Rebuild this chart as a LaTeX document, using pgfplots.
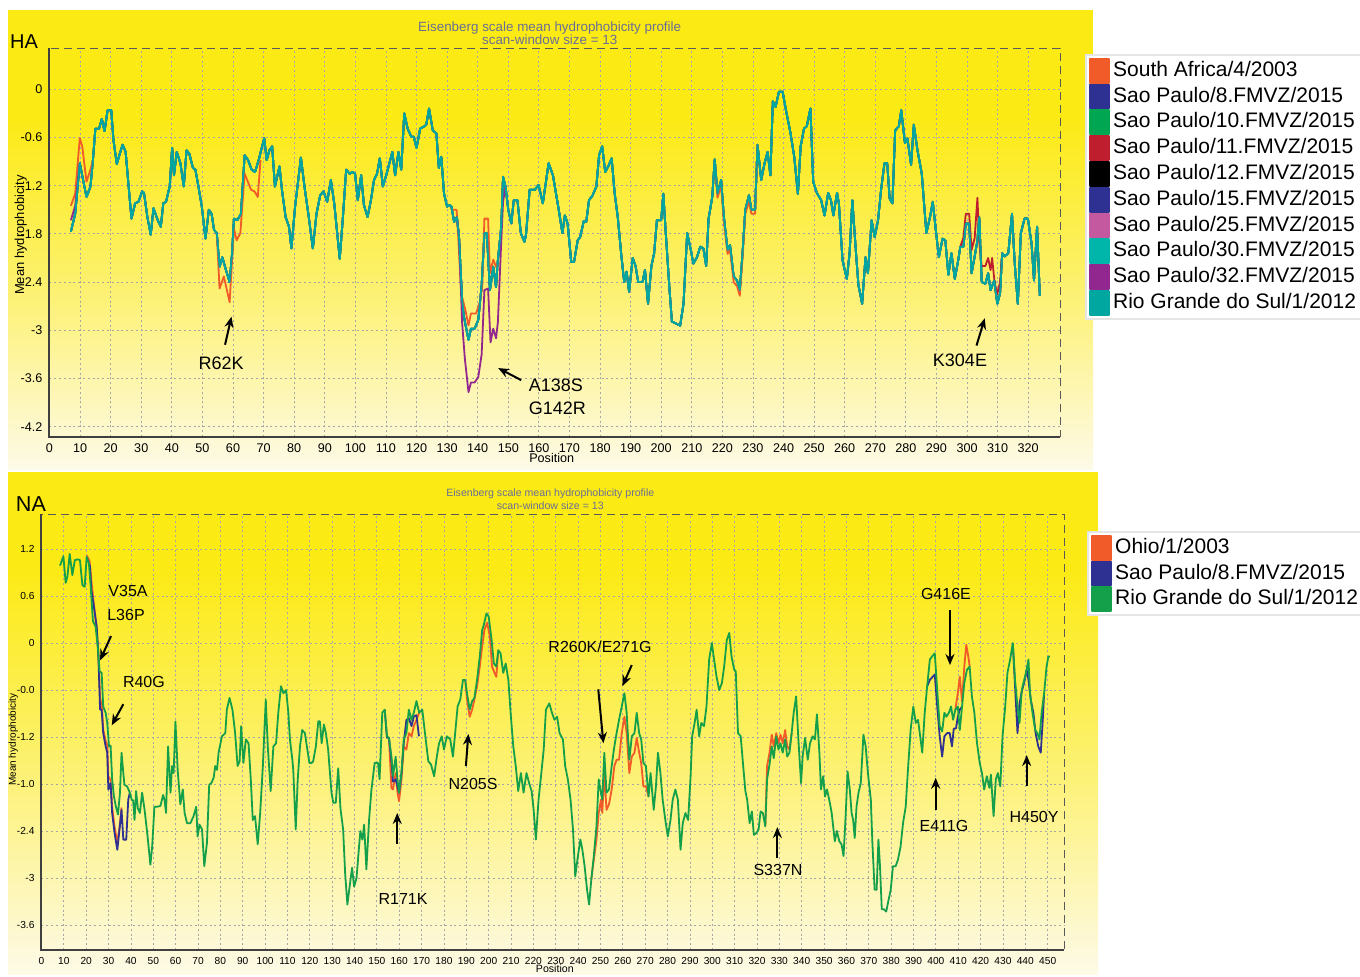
\documentclass[border=0pt]{standalone}
\usepackage{fontspec}
\setmainfont{Liberation Sans}
\usepackage{pgfplots}
\usepackage{pgfplotstable}
\pgfplotsset{compat=1.18}
\usetikzlibrary{arrows.meta}

\definecolor{cSA}{RGB}{241,90,41}
\definecolor{cBlue}{RGB}{46,49,146}
\definecolor{cGreen}{RGB}{0,166,81}
\definecolor{cRed}{RGB}{190,30,45}
\definecolor{cPink}{RGB}{197,89,160}
\definecolor{cTealL}{RGB}{0,181,170}
\definecolor{cPurple}{RGB}{146,39,143}
\definecolor{cTeal}{RGB}{0,166,160}
\definecolor{cNAgreen}{RGB}{20,160,75}
\definecolor{pYellow}{RGB}{252,234,20}
\definecolor{pCream}{RGB}{253,250,232}
\definecolor{titleC}{RGB}{105,110,150}

% ---------------- HA data ----------------
\pgfplotstableread{
x y
7 -1.77
8.4 -1.55
9.9 -0.92
12.1 -1.34
13.4 -1.21
14.2 -0.88
15 -0.49
16.2 -0.49
17.1 -0.37
18 -0.52
19 -0.26
20.2 -0.26
20.9 -0.63
22 -0.93
23 -0.80
23.9 -0.69
24.9 -0.78
25.6 -1.09
26.8 -1.61
28 -1.42
29.1 -1.40
30.3 -1.27
30.9 -1.29
32 -1.59
33.1 -1.81
34 -1.48
35.4 -1.63
36.4 -1.71
37.2 -1.42
38.1 -1.40
39.3 -1.21
40.1 -0.73
40.7 -1.07
41.6 -0.78
42.8 -0.92
43.9 -1.21
44.8 -0.76
45.7 -0.80
46.9 -0.98
47.7 -1.00
48.6 -1.19
49.8 -1.46
51 -1.86
52.1 -1.50
53 -1.55
53.8 -1.75
54.7 -1.79
55.6 -2.21
56.5 -2.09
57.7 -2.25
58.9 -2.40
59.7 -2.04
60.3 -1.61
61.4 -1.63
62.6 -1.55
63.8 -0.82
64.9 -0.88
66.1 -1.00
67.2 -1.03
68.4 -0.88
70.2 -0.61
71 -0.88
71.9 -0.76
72.8 -0.71
73.7 -1.21
75.2 -0.96
76 -1.25
77.2 -1.59
78.3 -1.71
79.1 -1.98
80.3 -1.46
82.2 -0.85
83.5 -1.25
84.7 -1.57
86.1 -1.98
87.3 -1.55
88.5 -1.32
89.6 -1.27
90.8 -1.40
92 -1.13
93.1 -1.42
94.9 -2.11
95.9 -1.61
97 -1.00
98.1 -1.05
99.1 -1.03
99.9 -1.05
100.8 -1.38
101.9 -1.07
102.8 -1.44
104 -1.59
105.1 -1.38
106.1 -1.13
107.1 -1.05
108 -0.86
109 -1.21
110.1 -1.07
112.1 -0.78
113 -1.07
114.1 -0.78
115 -1.00
116 -0.30
117.1 -0.49
118.3 -0.59
119.1 -0.59
120 -0.73
121.2 -0.49
122.6 -0.46
123.2 -0.44
124.1 -0.24
125.3 -0.51
126.5 -0.55
127.3 -0.98
128.1 -0.84
129 -1.30
130 -1.46
130.8 -1.44
131.4 -1.46
132.3 -1.65
133.2 -1.59
133.9 -1.84
134.9 -2.62
135.5 -2.83
137 -3.12
137.8 -2.98
139 -2.98
140.2 -2.87
141.3 -2.44
142.2 -1.79
143 -1.79
144 -2.50
145.1 -2.21
146 -2.46
146.5 -2.17
147.7 -1.71
148.3 -1.09
149.1 -1.21
150 -1.50
151 -1.67
151.8 -1.38
153 -1.38
154.1 -1.79
155.3 -1.90
155.8 -1.81
157 -1.25
158.7 -1.25
159.9 -1.19
161.3 -1.42
163.2 -0.92
164.6 -1.07
166.5 -1.50
167.7 -1.79
168.5 -1.57
169.4 -1.67
170.6 -2.15
171.5 -2.15
172.7 -1.88
173.5 -1.84
174.7 -1.64
175.5 -1.65
176.4 -1.38
177.6 -1.32
178.8 -1.21
179.7 -0.82
180.7 -0.71
181.7 -1.03
182.8 -0.95
183.8 -0.86
184.8 -1.30
185.8 -1.59
186.9 -2.04
187.9 -2.40
188.7 -2.27
189.5 -2.52
190.7 -2.10
191.6 -2.20
192.5 -2.40
193.9 -2.40
194.7 -2.25
195.7 -2.67
196.8 -2.20
197.7 -2.04
198.6 -1.63
200 -1.63
200.7 -1.30
201.5 -1.79
202.7 -2.48
203.5 -2.89
205 -2.92
206.2 -2.94
207.3 -2.67
208.5 -1.79
209.7 -2.00
210.5 -2.17
211.7 -2.09
212.8 -1.96
213.8 -1.98
214.7 -2.20
215.5 -1.61
216.7 -1.34
217.5 -0.87
218.4 -1.30
219.6 -1.13
220.5 -1.59
221.7 -2.00
222.5 -1.94
223.7 -2.33
224.8 -2.38
225.7 -2.50
226.6 -2.04
227.5 -1.50
228.7 -1.32
229.5 -1.50
230.7 -1.50
231.5 -0.69
232.7 -1.13
233.8 -0.92
234.8 -0.78
235.7 -1.07
236.5 -0.15
237.4 -0.22
238.5 -0.03
239.7 -0.03
240.8 -0.26
242.3 -0.55
243.5 -0.84
244.7 -1.30
245.6 -0.71
246.7 -0.49
247.6 -0.46
248.8 -0.24
249.7 -1.15
250.9 -1.29
252.3 -1.38
253.4 -1.57
254.6 -1.29
255.5 -1.38
256.3 -1.57
257.5 -1.29
258.1 -1.42
259.3 -2.13
260.7 -2.36
261.6 -2.04
262.5 -1.38
263.7 -2.04
264.5 -2.44
265.7 -2.67
266.8 -2.09
267.6 -2.29
268.8 -1.63
269.8 -1.84
270.9 -1.63
271.9 -1.25
273 -0.92
273.9 -0.92
274.7 -1.36
275.6 -1.42
276.5 -0.51
277.7 -0.46
278.5 -0.26
279.7 -0.67
280.5 -0.61
281.7 -0.94
282.6 -0.44
283.8 -0.76
285.2 -1.05
286.7 -1.79
287.9 -1.59
288.8 -1.40
289.9 -1.79
290.8 -2.09
292 -1.86
292.9 -1.88
293.9 -2.31
294.9 -2.04
296 -2.36
297.2 -2.11
297.8 -1.96
298.8 -1.96
299.6 -1.67
300.7 -1.67
301.5 -2.29
302.5 -2.08
303.4 -1.88
304 -1.59
304.8 -2.40
306 -2.42
306.9 -2.29
307.7 -2.50
308.9 -2.38
309.9 -2.67
310.8 -2.54
311.5 -2.04
312.3 -2.08
313.5 -2.04
314.7 -1.55
315.6 -2.17
316.6 -2.67
317.6 -1.79
318.8 -1.61
319.9 -1.61
321.1 -1.92
321.9 -2.38
322.9 -1.71
323.8 -2.57
}\haBase

% ---------------- NA data ----------------
\pgfplotstableread{
x y
8.3 0.99
9.8 1.11
10.8 0.77
11.6 0.85
12.6 1.14
13.8 0.87
14.9 1.06
16.3 1.07
17.2 1.06
18.3 0.74
19.3 0.72
20.2 1.10
21.2 1.02
22 0.72
23 0.28
24.2 0.21
25.3 -0.09
26 -0.36
26.9 -0.38
27.6 -0.81
28.7 -0.89
29.4 -1.02
30.2 -1.32
30.9 -1.31
31.6 -1.74
32.4 -1.96
33.3 -2.09
34.2 -2.19
35.1 -1.91
35.8 -1.40
36.6 -1.66
37.1 -1.81
38.3 -1.83
39.5 -1.91
40.3 -2.00
41 -2.01
41.6 -2.26
42.3 -1.89
43.1 -2.11
44 -2.17
45 -1.91
46.1 -2.13
47.3 -2.43
48.7 -2.83
49.5 -2.60
50.5 -2.09
51.7 -2.09
53.2 -2.08
54.4 -1.94
55 -2.00
55.7 -2.17
56.6 -1.32
57.7 -1.91
58.4 -1.57
59.1 -1.66
59.9 -1.00
60.9 -1.62
62.1 -2.06
63.2 -1.87
64 -2.17
65.1 -2.30
66.6 -2.30
68 -2.21
69.2 -2.09
69.8 -2.47
70.7 -2.32
71.8 -2.38
72.8 -2.85
74 -2.55
75 -1.81
75.9 -1.79
77 -1.72
77.7 -1.57
78.5 -1.62
79.2 -1.40
80.7 -1.19
82.2 -1.15
82.9 -0.85
84.1 -0.70
85.4 -0.85
86.6 -1.15
87.7 -1.57
88.6 -1.51
89.3 -1.06
90.3 -1.53
91.4 -1.23
92.6 -1.28
93.6 -1.74
94.5 -2.26
95.5 -2.21
96.7 -2.57
97.8 -2.17
99 -1.57
100.3 -0.72
101.2 -1.32
102.5 -1.89
103.7 -1.32
104.9 -1.28
105.9 -0.89
107.1 -0.55
108.2 -0.64
109.4 -0.60
110.4 -0.89
111.1 -1.23
112.2 -1.49
112.6 -1.62
113.7 -2.38
114.6 -1.74
115.6 -1.32
116.6 -1.11
117.8 -1.15
118.9 -1.36
119.8 -1.53
120.8 -1.53
121.5 -1.51
122.7 -1.32
123.8 -1.00
124.5 -1.00
125.3 -1.28
126.3 -1.04
127.2 -1.15
128.2 -1.36
128.9 -1.62
129.7 -1.91
130.5 -2.04
131.6 -2.04
132.7 -1.60
133.7 -2.11
134.9 -2.38
135.8 -2.94
136.8 -3.34
137.9 -3.09
138.9 -2.87
139.8 -3.11
140.9 -3.00
141.9 -2.64
142.6 -2.40
143.5 -2.51
144.3 -2.32
145.3 -2.89
146.5 -2.26
147.5 -1.89
149 -1.53
150.5 -1.53
151.2 -1.74
152.4 -0.89
153.5 -0.85
154.5 -1.19
155.4 -1.21
156.5 -1.45
157.2 -1.70
158.4 -1.45
159.2 -1.74
159.9 -1.91
161 -1.66
162 -1.23
163.2 -1.15
164.3 -0.85
165.5 -0.98
166.5 -0.89
167.7 -0.74
168.9 -0.89
170.3 -0.85
171.5 -1.15
173 -1.51
174.2 -1.55
175.6 -1.70
176.8 -1.45
177.8 -1.28
179 -1.19
180 -1.36
181.3 -1.19
182.8 -1.23
184 -1.45
185 -1.15
186.1 -0.81
187.3 -0.72
188.5 -0.47
189.5 -0.47
190.3 -0.64
191.5 -0.85
192.6 -0.74
193.6 -0.70
194.8 -0.47
196 -0.17
197.1 0.17
197.8 0.23
199 0.38
200 0.34
201.3 0.04
202.3 -0.26
203.4 -0.30
204.3 -0.09
205.3 -0.13
206.5 -0.38
207.6 -0.26
208.8 -0.47
209.8 -0.89
211 -1.32
212.1 -1.57
213.2 -1.89
214.4 -1.66
215.6 -1.91
216.9 -1.66
218.1 -1.79
219.2 -1.89
220.1 -2.13
221.1 -2.51
222.3 -2.00
223.4 -1.70
224.6 -1.36
225.6 -0.85
227.1 -0.77
228.3 -0.89
229.4 -0.98
230.6 -0.94
231.7 -1.15
233.2 -1.23
234.2 -1.57
235.4 -1.74
236.6 -2.00
237.7 -2.38
238.7 -2.98
239.9 -2.72
241 -2.51
241.9 -2.64
242.9 -2.85
244 -3.15
244.9 -3.34
245.9 -3.02
247 -2.72
248.2 -2.34
249.2 -1.74
250.2 -1.91
250.8 -2.00
251.7 -1.40
252.7 -1.91
253.8 -1.87
255 -1.57
256.2 -1.32
257.2 -1.15
258.3 -0.98
259.5 -0.81
260.7 -0.64
261.7 -0.89
262.9 -1.49
264 -1.19
265.2 -1.15
266.2 -0.89
267.3 -1.15
268.2 -1.23
269.2 -1.53
270.3 -1.57
271.5 -1.96
272.4 -1.66
273.8 -2.13
274.8 -1.83
275.7 -1.40
276.8 -1.66
277.8 -2.00
279 -2.26
280.1 -2.47
281.3 -2.26
282.3 -2.00
283.5 -1.87
284.6 -2.00
285.8 -2.64
286.8 -2.30
288 -2.17
289.2 -2.26
290.3 -1.70
291 -1.19
292.1 -1.02
293 -0.85
294.1 -1.19
295.1 -1.02
296.3 -1.06
297.4 -0.81
298.6 -0.21
299.8 0.00
300.8 -0.21
301.9 -0.43
303.1 -0.60
304.3 -0.51
305.3 -0.30
306.5 0.04
307.6 0.13
308.6 -0.17
309.8 -0.34
310.5 -0.36
311.5 -1.15
312.7 -1.19
313.7 -1.53
314.8 -1.89
315.6 -2.00
316.7 -2.30
317.7 -2.15
318.6 -2.45
319.6 -2.43
320.7 -2.38
321.6 -2.15
322.6 -2.17
323.7 -2.34
324.5 -1.74
325.6 -1.55
326.6 -1.32
327.5 -1.47
328.6 -1.19
329.6 -1.36
330.5 -1.28
331.5 -1.40
332.6 -1.23
333.5 -1.45
334.5 -1.40
335.5 -1.15
336.4 -0.89
337.5 -0.68
338.5 -1.23
339.7 -1.79
340.4 -1.45
341.5 -1.21
342.7 -1.49
343.7 -1.28
344.9 -1.19
345.9 -1.23
346.8 -0.91
347.9 -1.40
348.6 -1.87
349.6 -1.70
350.4 -1.96
351.3 -1.87
352.3 -2.00
353.4 -2.17
354.2 -2.38
354.8 -2.53
355.7 -2.40
356.8 -2.53
357.8 -2.57
358.7 -2.72
359.7 -2.17
360.5 -1.64
361.5 -1.87
362.3 -2.17
363 -2.26
363.7 -2.49
364.5 -2.09
365.4 -1.91
366.4 -1.79
367.6 -1.17
368.6 -1.32
369.6 -1.66
370.9 -2.00
371.6 -2.55
372.6 -3.15
373.5 -3.15
374.3 -2.51
375 -2.85
375.8 -3.40
376.8 -3.40
377.8 -3.43
378.7 -3.30
379.8 -3.15
380.8 -2.85
382 -2.85
383 -2.77
384.2 -2.60
385.3 -2.30
386.5 -2.09
387.5 -1.62
388.7 -1.11
389.9 -0.81
391 -1.02
392 -0.98
392.8 -1.15
393.9 -1.40
395 -0.89
396.1 -0.55
397.3 -0.21
398.3 -0.17
399.5 -0.13
400.6 -0.60
401.7 -1.06
402.8 -1.13
403.8 -0.89
404.7 -0.94
405.8 -0.89
406.8 -0.81
407.7 -0.98
408.7 -0.85
409.8 -0.81
410.7 -1.11
411.7 -0.81
412.7 -0.51
413.9 -0.34
415.1 -0.30
416.1 -0.68
417.2 -0.89
418.4 -1.28
419.6 -1.53
420.6 -1.66
421.6 -1.87
422.8 -1.70
423.9 -1.85
424.6 -1.68
425.8 -2.21
426.8 -1.74
427.7 -1.66
428.8 -1.83
429.8 -1.19
431 -0.81
432 -0.38
433.2 -0.21
434.4 0.00
435.4 -0.47
436.5 -0.81
437.4 -1.02
438.4 -0.60
439.5 -0.47
440.3 -0.38
441.4 -0.21
442.1 -0.64
443.2 -0.89
444.4 -1.11
445.4 -1.15
446.3 -1.23
447.3 -0.89
448.4 -0.64
449.5 -0.30
450.3 -0.17
451 -0.17
}\naBase

\pgfplotsset{
  hyd/.style={
    scale only axis,
    axis line style={black!65, dash pattern=on 4pt off 2.5pt, line width=0.5pt},
    grid=major,
    major grid style={black!35, dash pattern=on 1pt off 1.4pt, line width=0.4pt},
    major tick length=0pt,
    /pgf/number format/assume math mode=true,
    /pgf/number format/1000 sep={},
    legend cell align=left,
    legend image code/.code={\fill[##1] (0pt,-6pt) rectangle (9.5pt,6pt);},
    every axis plot/.append style={line width=0.9pt, line join=round},
    clip mode=individual,
  },
}

\begin{document}
\begin{tikzpicture}[arr/.style={-{Stealth[length=5.5pt,width=4.5pt]}, line width=1pt, black}]
\useasboundingbox (0,0) rectangle (680pt,488.5pt);
\fill[white] (0,0) rectangle (680pt,488.5pt);
% HA panel background
\fill[pYellow] (4pt,430pt) rectangle (546.5pt,483.5pt);
\shade[top color=pYellow, bottom color=pCream, middle color=pYellow!55!pCream] (4pt,253.5pt) rectangle (546.5pt,430.1pt);
% NA panel background
\fill[pYellow] (4pt,205pt) rectangle (549pt,252.5pt);
\shade[top color=pYellow, bottom color=pCream, middle color=pYellow!55!pCream] (4pt,1pt) rectangle (549pt,205.1pt);

\node[font=\fontsize{10}{12}\selectfont] at (12pt,467.5pt) {HA};
\node[font=\fontsize{10.8}{12}\selectfont] at (15.5pt,236.5pt) {NA};

% ================= HA =================
\begin{axis}[hyd,
  at={(24.75pt,270pt)}, anchor=south west,
  width=505.25pt, height=194.25pt,
  xmin=0, xmax=330.4, ymin=-4.328, ymax=0.508,
  xtick={0,10,...,320},
  ytick={-4.2,-3.6,-3,-2.4,-1.8,-1.2,-0.6,0},
  yticklabels={-4.2,-3.6,-3,-2.4,-1.8,-1.2,-0.6,0},
  ticklabel style={font=\fontsize{6.3}{7}\selectfont},
  xlabel={Position}, ylabel={Mean hydrophobicity},
  xlabel style={at={(axis description cs:0.497,-0.054)}, anchor=center, font=\fontsize{6.3}{7}\selectfont},
  ylabel style={at={(axis description cs:-0.0285,0.52)}, anchor=center, font=\fontsize{6.5}{7}\selectfont},
  title={Eisenberg scale mean hydrophobicity profile\\scan-window size = 13},
  title style={at={(axis description cs:0.495,1.009)}, anchor=center, align=center, text=titleC, font=\fontsize{6.7}{6.6}\selectfont},
  legend style={at={(1.0247,0.986)}, anchor=north west, fill=white, draw=black!10, line width=0.8pt,
    font=\fontsize{10.5}{12}\selectfont, inner sep=1.5pt, row sep=0pt, column sep=1pt,
    nodes={inner sep=0.8pt, text height=8.35pt, text depth=2.75pt}},
]
\addlegendimage{cSA}\addlegendentry{South Africa/4/2003}
\addlegendimage{cBlue}\addlegendentry{Sao Paulo/8.FMVZ/2015}
\addlegendimage{cGreen}\addlegendentry{Sao Paulo/10.FMVZ/2015}
\addlegendimage{cRed}\addlegendentry{Sao Paulo/11.FMVZ/2015}
\addlegendimage{black}\addlegendentry{Sao Paulo/12.FMVZ/2015}
\addlegendimage{cBlue}\addlegendentry{Sao Paulo/15.FMVZ/2015}
\addlegendimage{cPink}\addlegendentry{Sao Paulo/25.FMVZ/2015}
\addlegendimage{cTealL}\addlegendentry{Sao Paulo/30.FMVZ/2015}
\addlegendimage{cPurple}\addlegendentry{Sao Paulo/32.FMVZ/2015}
\addlegendimage{cTeal}\addlegendentry{Rio Grande do Sul/1/2012}

% series identical to the reference strain
\addplot[cBlue, forget plot] table {\haBase};
\addplot[cGreen, forget plot] table {\haBase};
\addplot[black, forget plot] table {\haBase};
\addplot[cPink, forget plot] table {\haBase};
\addplot[cTealL, forget plot] table {\haBase};
% South Africa/4/2003 deviations
\addplot[cSA, forget plot] coordinates {(7,-1.45) (8.4,-1.30) (9.9,-0.61) (10.7,-0.71) (12.1,-1.15) (13.4,-1.00) (14.2,-0.88)};
\addplot[cSA, forget plot] coordinates {(54.7,-1.79) (55.6,-2.48) (57,-2.33) (58.9,-2.65) (60.3,-1.73) (61.2,-1.88) (62.4,-1.79) (63.8,-1.05) (65.9,-1.25) (67,-1.27) (68.1,-1.34) (69,-0.88)};
\addplot[cSA, forget plot] coordinates {(131.4,-1.50) (133.1,-1.50) (133.7,-1.88) (134.6,-2.54) (136,-2.75) (137,-2.94) (137.8,-2.79) (139.5,-2.79) (140.7,-2.65) (141.5,-2.46) (142.2,-1.61) (143.4,-1.61) (144,-2.29) (145.1,-2.12) (146,-2.21) (146.5,-2.17)};
\addplot[cSA, forget plot] coordinates {(217.5,-0.87) (218.4,-1.35) (219.6,-1.20) (220.5,-1.65) (221.7,-2.05) (222.5,-2.00) (223.7,-2.40) (224.8,-2.45) (225.7,-2.57) (226.6,-2.10) (227.5,-1.55) (228.7,-1.40) (229.5,-1.55) (230.7,-1.55) (231.5,-0.69)};
% Sao Paulo/11 deviation
\addplot[cRed, forget plot] coordinates {(297.8,-1.96) (298.8,-1.85) (299.6,-1.55) (300.7,-1.55) (301.5,-2.00) (302.5,-1.85) (303.4,-1.35) (304,-1.90) (304.8,-2.20) (306,-2.20) (306.9,-2.10) (307.7,-2.25) (308.2,-2.10) (309,-2.40) (309.9,-2.55) (310.8,-2.40) (311.5,-2.04)};
% Sao Paulo/32 deviations
\addplot[cPurple, forget plot] coordinates {(7,-1.63) (8.4,-1.45) (9.9,-0.92)};
\addplot[cPurple, forget plot] coordinates {(133.2,-1.59) (133.9,-1.84) (134.9,-2.90) (135.8,-3.35) (137,-3.77) (137.8,-3.65) (139,-3.65) (140.2,-3.58) (141.3,-3.30) (142.2,-2.50) (143.4,-2.48) (144.2,-3.15) (145.1,-2.98) (146,-3.10) (146.6,-2.90) (147.7,-1.90) (148.3,-1.40) (149.1,-1.21)};
% Rio Grande do Sul/1/2012
\addplot[cTeal, forget plot] table {\haBase};

\draw[line width=1pt, black!75] (rel axis cs:0,1) -- (rel axis cs:0,0) -- (rel axis cs:1,0);

\begin{scope}[font=\fontsize{9}{10}\selectfont]
\node at (axis cs:56.1,-3.41) {R62K};
\draw[arr] (axis cs:57.4,-3.18) -- (axis cs:59.5,-2.83);
\node[anchor=west] at (axis cs:154.4,-3.68) {A138S};
\node[anchor=west] at (axis cs:154.4,-3.97) {G142R};
\draw[arr] (axis cs:154.2,-3.62) -- (axis cs:146.7,-3.47);
\node at (axis cs:297.7,-3.37) {K304E};
\draw[arr] (axis cs:303.1,-3.19) -- (axis cs:305.8,-2.85);
\end{scope}
\end{axis}

% ================= NA =================
\begin{axis}[hyd,
  at={(20.75pt,13.5pt)}, anchor=south west,
  width=511.25pt, height=217.75pt,
  xmin=0, xmax=457.3, ymin=-3.92, ymax=1.643,
  xtick={0,10,...,450},
  ytick={-3.6,-3,-2.4,-1.8,-1.2,-0.6,0,0.6,1.2},
  yticklabels={-3.6,-3,-2.4,-1.0,-1.2,-0.0,0,0.6,1.2},
  ticklabel style={font=\fontsize{5.1}{6}\selectfont},
  xlabel={Position}, ylabel={Mean hydrophobicity},
  xlabel style={at={(axis description cs:0.502,-0.0437)}, anchor=center, font=\fontsize{5.3}{6}\selectfont},
  ylabel style={at={(axis description cs:-0.0275,0.483)}, anchor=center, font=\fontsize{5}{6}\selectfont},
  title={Eisenberg scale mean hydrophobicity profile\\scan-window size = 13},
  title style={at={(axis description cs:0.4976,1.007)}, anchor=center, align=center, text=titleC, font=\fontsize{5.3}{6.5}\selectfont},
  legend style={at={(1.0225,0.962)}, anchor=north west, fill=white, draw=black!10, line width=0.8pt,
    font=\fontsize{10.5}{12}\selectfont, inner sep=1.5pt, row sep=0pt, column sep=1pt,
    nodes={inner sep=0.8pt, text height=8.35pt, text depth=2.75pt}},
]
\addlegendimage{cSA}\addlegendentry{Ohio/1/2003}
\addlegendimage{cBlue}\addlegendentry{Sao Paulo/8.FMVZ/2015}
\addlegendimage{cNAgreen}\addlegendentry{Rio Grande do Sul/1/2012}

% Ohio/1/2003 deviations
\addplot[cSA, forget plot] coordinates {(20.2,1.12) (21.5,1.05) (22.3,0.80) (23.2,0.55) (24.2,0.30) (24.7,0.15) (25.4,-0.10) (26.2,-0.70) (27,-0.80) (27.6,-1.10) (28.7,-1.25) (29.4,-1.30) (29.9,-1.70) (30.9,-1.75) (31.6,-2.10) (32.7,-2.35) (33.9,-2.55) (34.9,-2.35) (35.8,-2.10)};
\addplot[cSA, forget plot] coordinates {(155.4,-1.21) (156.5,-1.85) (157.2,-1.87) (158.4,-1.66) (159.2,-1.91) (159.9,-2.02) (161,-1.74) (162,-1.32) (163.2,-1.36) (164.3,-1.15) (165.5,-1.19) (166.5,-1.06) (167.7,-0.98) (168.9,-0.89)};
\addplot[cSA, forget plot] coordinates {(189.5,-0.47) (190.3,-0.72) (191.5,-0.94) (192.6,-0.85) (193.6,-0.72) (194.8,-0.55) (196,-0.30) (197.1,-0.04) (198.1,0.17) (199.3,0.26) (200.5,0.09) (201.5,-0.30) (202.6,-0.38) (203.4,-0.43) (204.3,-0.09)};
\addplot[cSA, forget plot] coordinates {(245.9,-3.02) (247,-2.77) (248.2,-2.51) (249.2,-2.17) (250.2,-2.00) (250.8,-2.17) (251.7,-1.66) (252.7,-2.13) (253.8,-2.06) (255,-1.87) (256.2,-1.57) (257.2,-1.49) (258.3,-1.49) (259.5,-1.15) (260.7,-0.94) (261.7,-1.15) (262.9,-1.66) (264,-1.45) (265.2,-1.40) (266.2,-1.21) (267.3,-1.40) (268.2,-1.53) (269.2,-1.83) (270.3,-1.83) (271.5,-1.96)};
\addplot[cSA, forget plot] coordinates {(323.7,-2.34) (324.5,-1.57) (325.6,-1.40) (326.6,-1.17) (327.5,-1.32) (328.6,-1.15) (329.6,-1.28) (330.5,-1.17) (331.5,-1.28) (332.6,-1.11) (333.5,-1.32) (334.5,-1.36) (335.5,-1.15)};
\addplot[cSA, forget plot] coordinates {(408.7,-0.85) (409.8,-0.64) (410.7,-0.43) (411.7,-0.75) (412.7,-0.30) (413.6,-0.02) (414.7,-0.21) (415.1,-0.30)};
% Sao Paulo/8 deviations
\addplot[cBlue, forget plot] coordinates {(21.2,1.02) (21.7,0.98) (22.3,0.68) (23.2,0.51) (24.7,0.21) (25.4,-0.13) (26.2,-0.85) (26.9,-0.85) (27.6,-1.15) (28.7,-1.32) (29.4,-1.40) (29.9,-1.87) (30.9,-1.79) (31.6,-2.17) (32.7,-2.43) (33.9,-2.64) (34.9,-2.38) (35.8,-2.13) (36.6,-2.51) (37.9,-2.51) (38.8,-2.00) (39.5,-1.91)};
\addplot[cBlue, forget plot] coordinates {(153.5,-0.85) (154.5,-1.21) (155.4,-1.21) (156.5,-1.50) (157.2,-1.77) (158.4,-1.74) (159.9,-1.91) (161,-1.66) (162,-1.28) (163.2,-0.98) (164.3,-0.96) (165.5,-1.06) (166.5,-0.94) (167.7,-0.92) (168.8,-1.19)};
\addplot[cBlue, forget plot] coordinates {(396.1,-0.55) (397.3,-0.47) (399.5,-0.40) (400.6,-0.81) (401.7,-1.19) (402.8,-1.45) (403.8,-1.19) (405,-1.15) (406.2,-1.15) (407.2,-1.32) (408,-1.09) (409,-1.09) (409.8,-0.94) (410.7,-0.85) (411.7,-0.81)};
\addplot[cBlue, forget plot] coordinates {(434.4,0.00) (435.4,-0.55) (436.5,-1.15) (437.4,-0.77) (438.4,-0.62) (439.5,-0.50) (440.6,-0.34) (441.4,-0.47) (442.4,-0.72) (443.6,-0.89) (444.6,-1.15) (445.8,-1.32) (446.9,-1.40) (447.8,-0.98) (448.4,-0.64)};
% Rio Grande do Sul/1/2012
\addplot[cNAgreen, forget plot] table {\naBase};

\draw[line width=1pt, black!75] (rel axis cs:0,1) -- (rel axis cs:0,0) -- (rel axis cs:1,0);

\begin{scope}[font=\fontsize{8}{9}\selectfont]
\node at (axis cs:38.7,0.66) {V35A};
\node at (axis cs:37.8,0.36) {L36P};
\draw[arr] (axis cs:31.1,0.09) -- (axis cs:26.2,-0.22);
\node at (axis cs:45.8,-0.50) {R40G};
\draw[arr] (axis cs:36.6,-0.78) -- (axis cs:31.4,-1.05);
\node at (axis cs:161.7,-3.27) {R171K};
\draw[arr] (axis cs:159.1,-2.57) -- (axis cs:159.1,-2.17);
\node at (axis cs:193,-1.80) {N205S};
\draw[arr] (axis cs:189.8,-1.57) -- (axis cs:190.9,-1.16);
\node at (axis cs:249.8,-0.05) {R260K/E271G};
\draw[arr] (axis cs:249,-0.59) -- (axis cs:251.3,-1.28);
\draw[arr] (axis cs:264,-0.28) -- (axis cs:259.8,-0.55);
\node at (axis cs:329.4,-2.90) {S337N};
\draw[arr] (axis cs:329.1,-2.75) -- (axis cs:329.1,-2.35);
\node at (axis cs:403.6,-2.34) {E411G};
\draw[arr] (axis cs:399.9,-2.13) -- (axis cs:399.9,-1.72);
\node at (axis cs:404.5,0.63) {G416E};
\draw[arr] (axis cs:406.3,0.42) -- (axis cs:406.3,-0.28);
\node at (axis cs:443.9,-2.22) {H450Y};
\draw[arr] (axis cs:440.6,-1.83) -- (axis cs:440.6,-1.43);
\end{scope}
\end{axis}
\end{tikzpicture}
\end{document}
